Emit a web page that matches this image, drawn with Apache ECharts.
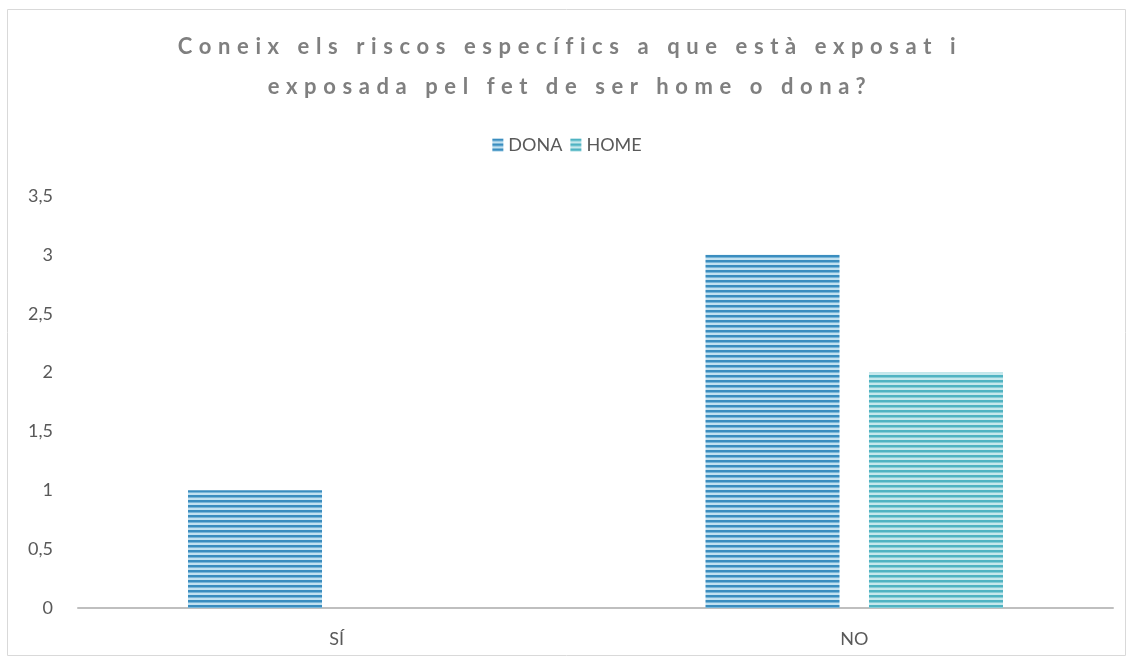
<!DOCTYPE html>
<html>
<head>
<meta charset="utf-8">
<script src="https://cdn.jsdelivr.net/npm/echarts@6/dist/echarts.min.js"></script>
<style>
  html, body { margin: 0; padding: 0; background: #fff; }
  #wrap { position: relative; width: 1134px; height: 664px; }
  #chart { position: absolute; left: 0; top: 0; width: 1134px; height: 664px; }
  #title {
    position: absolute; left: 3px; top: 26px; width: 1134px;
    text-align: center; font-family: Lato, 'Open Sans', sans-serif;
    font-weight: bold; font-size: 22px; line-height: 40px;
    letter-spacing: 6.6px; color: #7f7f7f; pointer-events: none;
  }
</style>
</head>
<body>
<div id="wrap">
  <div id="chart"></div>
  <div id="title">Coneix els riscos específics a que està exposat i<br>exposada pel fet de ser home o dona?</div>
</div>
<script>
// dades
const categories = ['SÍ', 'NO']
const seriesNames = ['DONA', 'HOME']
const dona = [1, 3]
const home = [0, 2]
const yTicks = [0, 0.5, 1, 1.5, 2, 2.5, 3, 3.5]

// patró de ratlles horitzontals
const stripes = (dark, mid, light) => {
  const c = document.createElement('canvas')
  c.width = 8
  c.height = 5
  const ctx = c.getContext('2d')
  ctx.fillStyle = light
  ctx.fillRect(0, 0, 8, 5)
  ctx.fillStyle = dark
  ctx.fillRect(0, 0, 8, 2)
  ctx.fillStyle = mid
  ctx.fillRect(0, 2, 8, 1)
  return { image: c, repeat: 'repeat' }
}

const donaPattern = stripes('#3a8dbf', '#79b6d8', '#c2e1f0')
const homePattern = stripes('#4fb3c2', '#86cdd6', '#c6e8ec')

const chart = echarts.init(document.getElementById('chart'))

const option = {
  animation: false,
  textStyle: { fontFamily: 'Lato, "Open Sans", sans-serif' },
  graphic: [{
    type: 'rect',
    shape: { x: 7.5, y: 9.5, width: 1118, height: 646 },
    style: { fill: 'none', stroke: '#d9d9d9', lineWidth: 1 },
    silent: true
  }],
  legend: {
    data: seriesNames,
    top: 131,
    left: 'center',
    icon: 'rect',
    itemWidth: 11,
    itemHeight: 13,
    itemGap: 8,
    textStyle: { color: '#595959', fontSize: 18 }
  },
  grid: { left: 78, right: 21, top: 196, bottom: 56, containLabel: false },
  xAxis: {
    type: 'category',
    data: categories,
    axisLine: { lineStyle: { color: '#bfbfbf', width: 2 } },
    axisTick: { show: false },
    axisLabel: { color: '#595959', fontSize: 18, margin: 22 }
  },
  yAxis: {
    type: 'value',
    min: yTicks[0],
    max: yTicks[yTicks.length - 1],
    interval: 0.5,
    splitLine: { show: false },
    axisLine: { show: false },
    axisTick: { show: false },
    axisLabel: {
      color: '#595959',
      fontSize: 18,
      margin: 25,
      formatter: v => String(v).replace('.', ',')
    }
  },
  series: [
    {
      name: seriesNames[0],
      type: 'bar',
      data: dona,
      barWidth: 134,
      barGap: '22%',
      itemStyle: { color: donaPattern }
    },
    {
      name: seriesNames[1],
      type: 'bar',
      data: home,
      barWidth: 134,
      barGap: '22%',
      itemStyle: { color: homePattern }
    }
  ]
}

chart.setOption(option)
</script>
</body>
</html>
